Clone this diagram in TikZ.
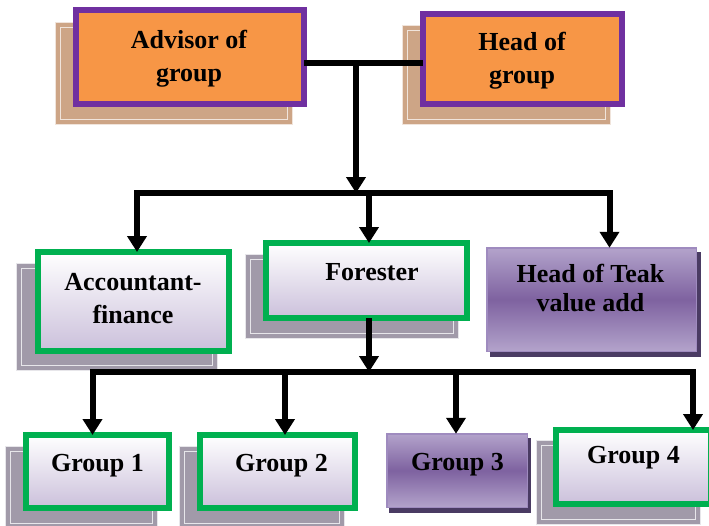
\documentclass[tikz,border=0pt]{standalone}
\usepackage{fontspec}
\setmainfont{Liberation Serif}
\usetikzlibrary{arrows.meta}

\definecolor{orangefill}{HTML}{F79646}
\definecolor{violetline}{HTML}{7030A0}
\definecolor{tanshadow}{HTML}{CDA586}
\definecolor{greyshadow}{HTML}{A19AA9}
\definecolor{greenline}{HTML}{00B050}
\definecolor{lavender}{HTML}{CBC0DB}
\definecolor{plumlight}{HTML}{B3A3CB}
\definecolor{plumdark}{HTML}{7E62A0}
\definecolor{plumedge}{HTML}{9F8BBF}
\definecolor{plumshadow}{HTML}{4A3B63}

% two centred lines, baseline on the first one
\newcommand{\pairlines}[3][33pt]{{\fontsize{26}{#1}\selectfont
  \begin{tabular}[t]{@{}c@{}}#2\\#3\end{tabular}}}

\tikzset{
  panel/.style={rectangle, inner sep=0pt, outer sep=0pt},
  orangebox/.style={panel, fill=orangefill, draw=violetline, line width=6pt},
  greenbox/.style={panel, top color=white, bottom color=lavender,
    draw=greenline, line width=6pt},
  plumbox/.style={panel, top color=plumlight, bottom color=plumlight,
    middle color=plumdark, draw=plumedge, line width=1.5pt},
  tanback/.style={panel, fill=tanshadow, draw=white!70!tanshadow,
    double=tanshadow, double distance=4pt, line width=1pt},
  greyback/.style={panel, fill=greyshadow, draw=white!75!greyshadow,
    double=greyshadow, double distance=4pt, line width=1pt},
  plumback/.style={panel, fill=plumshadow},
  label/.style={anchor=base, inner sep=0pt, font=\fontsize{26}{33}\selectfont\bfseries},
  link/.style={line width=6pt, line join=miter},
  arrowlink/.style={link, -{Triangle[width=19pt,length=16pt]}},
}

\begin{document}
\begin{tikzpicture}[x=1pt, y=-1pt]
  \fill[white] (0,0) rectangle (709,525);
  \useasboundingbox (0,0) rectangle (709,525);

  % --- top level ---
  \node[tanback, minimum width=232pt, minimum height=97pt] (advS) at (174,73.5) {};
  \node[orangebox, minimum width=228pt, minimum height=94pt] (adv) at (190,57) {};
  \node[label] (advT) at (189,48) {\pairlines{Advisor of}{group}};

  \node[tanback, minimum width=203pt, minimum height=94pt] (headS) at (506.5,75) {};
  \node[orangebox, minimum width=199pt, minimum height=90pt] (head) at (522.5,59) {};
  \node[label] (headT) at (522,50) {\pairlines{Head of}{group}};

  % --- second level ---
  \node[greyback, minimum width=196pt, minimum height=102pt] (accS) at (117,317) {};
  \node[greenbox, minimum width=191pt, minimum height=99pt] (acc) at (133.5,301.5) {};
  \node[label] (accT) at (133,290) {\pairlines{Accountant-}{finance}};

  \node[greyback, minimum width=208pt, minimum height=79pt] (forS) at (352,296.5) {};
  \node[greenbox, minimum width=201pt, minimum height=75pt] (forester) at (366.5,280.5) {};
  \node[label] (forT) at (372,280) {Forester};

  \node[plumback, minimum width=211pt, minimum height=105pt] (teakS) at (595.5,304.5) {};
  \node[plumbox, minimum width=209.5pt, minimum height=103.5pt] (teak) at (591.5,299.5) {};
  \node[label] (teakT) at (590.5,282) {\pairlines[29pt]{Head of Teak}{value add}};

  % --- groups ---
  \node[greyback, minimum width=147pt, minimum height=77pt] (g1S) at (81.5,487.5) {};
  \node[greenbox, minimum width=143pt, minimum height=73pt] (g1) at (97.5,471.5) {};
  \node[label] (g1T) at (97.5,471) {Group 1};

  \node[greyback, minimum width=160pt, minimum height=77pt] (g2S) at (262,487.5) {};
  \node[greenbox, minimum width=155pt, minimum height=73pt] (g2) at (277.5,471.5) {};
  \node[label] (g2T) at (281.5,471) {Group 2};

  \node[plumback, minimum width=142pt, minimum height=75pt] (g3S) at (460,475.5) {};
  \node[plumbox, minimum width=140.5pt, minimum height=73.5pt] (g3) at (457,470.5) {};
  \node[label] (g3T) at (457.5,470) {Group 3};

  \node[greyback, minimum width=159pt, minimum height=79pt] (g4S) at (618.5,482.5) {};
  \node[greenbox, minimum width=155pt, minimum height=74pt] (g4) at (633.5,467) {};
  \node[label] (g4T) at (633.5,463) {Group 4};

  % --- connectors ---
  \coordinate (junction) at (356,63);
  \coordinate (busA) at (369,193);
  \coordinate (busB) at (369,372);

  \draw[link] (adv.east |- junction) -- (head.west |- junction);
  \draw[arrowlink] (junction) -- (junction |- busA);

  \draw[arrowlink] (busA) -| ([xshift=3.5pt]acc.north);
  \draw[arrowlink] (busA) -- (forester.north -| busA);
  \draw[arrowlink] (busA) -| ([xshift=18pt]teak.north);

  \draw[arrowlink] (forester.south -| busB) -- (busB);
  \draw[arrowlink] (busB) -| ([xshift=-5pt]g1.north);
  \draw[arrowlink] (busB) -| ([xshift=7.5pt]g2.north);
  \draw[arrowlink] (busB) -| ([xshift=-1pt]g3.north);
  \draw[arrowlink] (busB) -| ([xshift=59.5pt]g4.north);
\end{tikzpicture}
\end{document}
